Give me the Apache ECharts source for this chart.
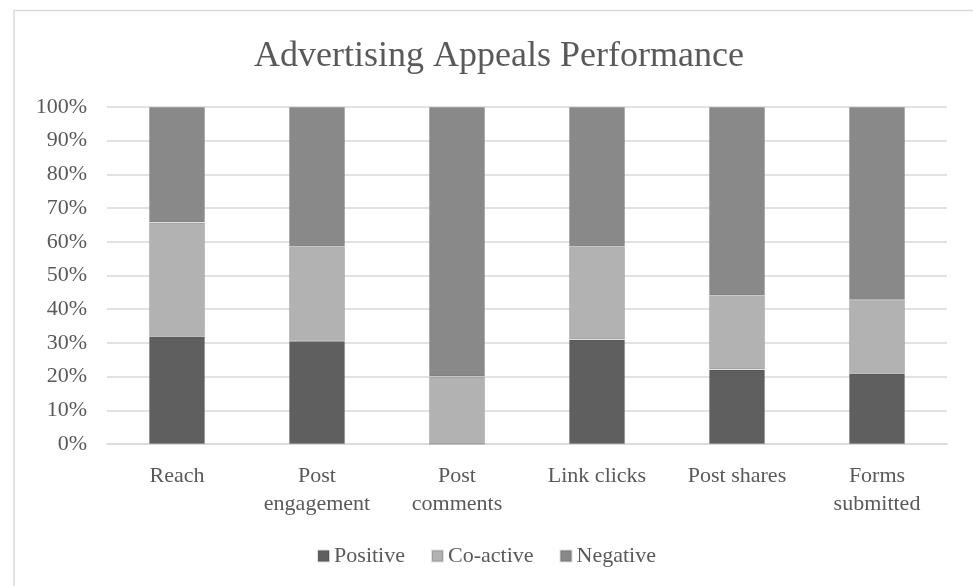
<!DOCTYPE html>
<html>
<head>
<meta charset="utf-8">
<script src="https://cdn.jsdelivr.net/npm/echarts@6/dist/echarts.min.js"></script>
<style>
html,body{margin:0;padding:0;background:#fff;}
#chart{width:973px;height:586px;}
</style>
</head>
<body>
<div id="chart"></div>
<script>
var categories = ['Reach', 'Post\nengagement', 'Post\ncomments', 'Link clicks', 'Post shares', 'Forms\nsubmitted'];
var positive = [32, 30.6, 0, 31, 22.1, 21];
var coActive = [33.7, 27.9, 20, 27.5, 21.9, 21.7];
var negative = [34.3, 41.5, 80, 41.5, 56, 57.3];
var seriesNames = ['Positive', 'Co-active', 'Negative'];

var font = '"Liberation Serif", "Times New Roman", serif';
var textColor = '#595959';
var chart = echarts.init(document.getElementById('chart'), null, {renderer: 'canvas'});

function barSeries(name, data, color) {
  return {
    name: name,
    type: 'bar',
    stack: 'total',
    data: data,
    barWidth: '40%',
    itemStyle: {color: color, borderColor: 'rgba(0,0,0,0.12)', borderWidth: 1},
    emphasis: {disabled: true}
  };
}

chart.setOption({
  animation: false,
  backgroundColor: '#ffffff',
  graphic: [{
    type: 'rect',
    shape: {x: 14, y: 10.5, width: 1000, height: 600},
    style: {fill: 'none', stroke: '#d9d9d9', lineWidth: 1.5},
    silent: true
  }],
  title: {
    text: 'Advertising Appeals Performance',
    left: 494,
    textAlign: 'center',
    top: 34,
    textStyle: {fontFamily: font, fontSize: 36, fontWeight: 'normal', color: textColor}
  },
  legend: {
    data: seriesNames,
    left: 'center',
    top: 540,
    icon: 'rect',
    itemWidth: 11,
    itemHeight: 11,
    itemGap: 26,
    textStyle: {fontFamily: font, fontSize: 22, color: textColor}
  },
  grid: {left: 107, right: 26, top: 107, bottom: 142, containLabel: false},
  xAxis: {
    type: 'category',
    data: categories,
    axisLine: {show: true, lineStyle: {color: '#d9d9d9', width: 1.5}},
    axisTick: {show: false},
    axisLabel: {fontFamily: font, fontSize: 22, color: textColor, margin: 18, lineHeight: 28, interval: 0}
  },
  yAxis: {
    type: 'value',
    min: 0,
    max: 100,
    interval: 10,
    axisLine: {show: false},
    axisTick: {show: false},
    splitLine: {lineStyle: {color: '#d9d9d9', width: 1.5}},
    axisLabel: {fontFamily: font, fontSize: 22, color: textColor, margin: 20, formatter: '{value}%'}
  },
  series: [
    barSeries(seriesNames[0], positive, '#5f5f5f'),
    barSeries(seriesNames[1], coActive, '#b2b2b2'),
    barSeries(seriesNames[2], negative, '#898989')
  ]
});
</script>
</body>
</html>
